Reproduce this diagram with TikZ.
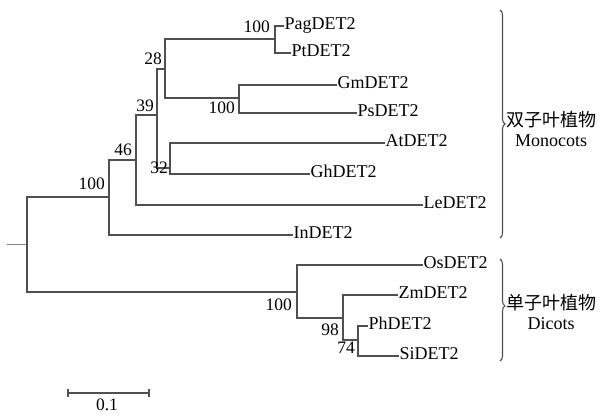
\documentclass[tikz,border=0pt]{standalone}
\usepackage{fontspec}
\setmainfont{Liberation Serif}
\newfontfamily\cjkfont{Noto Sans CJK SC}
\usetikzlibrary{decorations.pathreplacing}
\definecolor{branch}{HTML}{505050}
\tikzset{
  br/.style={draw=branch, line width=1.3pt},
  thickbr/.style={draw=branch, line width=2.6pt},
  leaf/.style={anchor=west, inner sep=0.5pt, text height=0.66em, text depth=0pt, font=\fontsize{18}{18}\selectfont},
  boot/.style={anchor=base east, inner sep=0pt, font=\fontsize{17.5}{17.5}\selectfont},
  grp/.style={inner sep=0pt, font=\fontsize{18}{18}\selectfont},
  bracestyle/.style={draw=branch, line width=1.1pt, decorate, decoration={brace, amplitude=5pt}}
}
\begin{document}
\begin{tikzpicture}[x=1pt, y=-1pt]
\useasboundingbox (0,0) rectangle (599,415);
% internal nodes
\coordinate (stub) at (7,244);
\coordinate (r) at (27,244);
\coordinate (ing) at (109,197);
\coordinate (dic) at (297,292);
\coordinate (n46) at (136,160);
\coordinate (n39) at (157,115);
\coordinate (n28) at (165,69);
\coordinate (n32) at (170,168);
\coordinate (nPP) at (275,39);
\coordinate (nGP) at (239,98);
\coordinate (n98) at (343,318);
\coordinate (n74) at (358,340);
% leaves
\node[leaf] (Pag) at (284,26) {PagDET2};
\node[leaf] (Pt) at (291,53) {PtDET2};
\node[leaf] (Gm) at (337,85) {GmDET2};
\node[leaf] (Ps) at (357,113) {PsDET2};
\node[leaf] (At) at (385,143) {AtDET2};
\node[leaf] (Gh) at (310,174) {GhDET2};
\node[leaf] (Le) at (423,205) {LeDET2};
\node[leaf] (In) at (293,235) {InDET2};
\node[leaf] (Os) at (423,265) {OsDET2};
\node[leaf] (Zm) at (398,295) {ZmDET2};
\node[leaf] (Ph) at (368,326) {PhDET2};
\node[leaf] (Si) at (399,356) {SiDET2};
% branches
\draw[draw=branch!70, line width=1pt] (stub) -- (r);
\draw[br] (r) |- (ing);
\draw[br] (r) |- (dic);
\draw[thickbr] (r |- dic) -- (dic);
\draw[br] (ing) |- (n46);
\draw[br] (ing) |- (In.west);
\draw[br] (n46) |- (n39);
\draw[br] (n46) |- (Le.west);
\draw[br] (n39) |- (n28);
\draw[br] (n39) |- (n32);
\draw[br] (n28) |- (nPP);
\draw[thickbr] (n28 |- nPP) -- (nPP);
\draw[br] (n28) |- (nGP);
\draw[br] (nPP) |- (Pag.west);
\draw[br] (nPP) |- (Pt.west);
\draw[br] (nGP) |- (Gm.west);
\draw[br] (nGP) |- (Ps.west);
\draw[br] (n32) |- (At.west);
\draw[br] (n32) |- (Gh.west);
\draw[br] (dic) |- (Os.west);
\draw[br] (dic) |- (n98);
\draw[br] (n98) |- (Zm.west);
\draw[br] (n98) |- (n74);
\draw[thickbr] (n98 |- Zm.west) -- (n98 |- n74);
\draw[br] (n74) |- (Ph.west);
\draw[br] (n74) |- (Si.west);
% bootstrap values
\node[boot] (b1) at (270,32) {100};
\node[boot] (b2) at (162,64) {28};
\node[boot] (b3) at (235,113) {100};
\node[boot] (b4) at (154,111) {39};
\node[boot] (b5) at (132,155) {46};
\node[boot] (b6) at (168,173) {32};
\node[boot] (b7) at (105,189) {100};
\node[boot] (b8) at (292,310) {100};
\node[boot] (b9) at (339,335) {98};
\node[boot] (b10) at (355,353) {74};
% braces
\coordinate (mt) at (500,10);
\coordinate (mb) at (500,238);
\coordinate (dt) at (500,259);
\coordinate (db) at (500,361);
\draw[bracestyle] (mt) -- (mb);
\draw[bracestyle, decoration={brace, amplitude=5pt, aspect=0.46}] (dt) -- (db);
\node[grp] (mcn) at (551,120) {\cjkfont 双子叶植物};
\node[grp] (men) at (551,141) {Monocots};
\node[grp] (dcn) at (551,303) {\cjkfont 单子叶植物};
\node[grp] (den) at (551,324) {Dicots};
% scale bar
\coordinate (s1) at (68,393);
\coordinate (s2) at (149,393);
\draw[br] (s1) -- (s2);
\draw[br] ([yshift=-4pt]s1) -- ([yshift=4pt]s1);
\draw[br] ([yshift=-4pt]s2) -- ([yshift=4pt]s2);
\node[grp] (sl) at (107,405) {\fontsize{17.5}{17.5}\selectfont 0.1};
\end{tikzpicture}
\end{document}
